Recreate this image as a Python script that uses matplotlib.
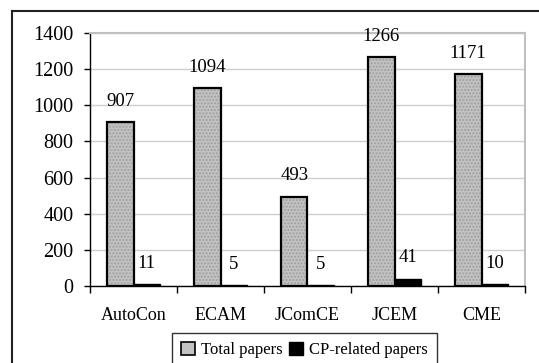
import matplotlib.pyplot as plt
import numpy as np
from matplotlib.lines import Line2D
from matplotlib.patches import Patch

plt.rcParams['font.family'] = ['Liberation Serif', 'DejaVu Serif']

journals = ['AutoCon', 'ECAM', 'JComCE', 'JCEM', 'CME']
total_papers = [907, 1094, 493, 1266, 1171]
cp_papers = [11, 5, 5, 41, 10]

fig = plt.figure(figsize=(5.39, 3.63), dpi=100)
ax = fig.add_axes([90 / 539, 1 - 286 / 363, 435 / 539, 253 / 363])

x = np.arange(len(journals))
w = 0.305

# gray bars, with a fine dot pattern
ax.bar(x - w / 2, total_papers, w, color='#c2c2c2', edgecolor='#a0a0a0',
       hatch='.....', linewidth=0, zorder=2)
ax.bar(x - w / 2, total_papers, w, fill=False, edgecolor='black',
       linewidth=1.6, zorder=3)
ax.bar(x + w / 2, cp_papers, w, color='black', edgecolor='black',
       linewidth=1.0, zorder=3)

for xi, v in zip(x, total_papers):
    ax.annotate(str(v), (xi - w / 2, v), xytext=(0, 9), textcoords='offset points',
                ha='center', va='bottom', fontsize=13.5)
for xi, v in zip(x, cp_papers):
    ax.annotate(str(v), (xi + w / 2, v), xytext=(0, 9), textcoords='offset points',
                ha='center', va='bottom', fontsize=13.5)

ax.set_xlim(-0.5, len(journals) - 0.5)
ax.set_ylim(0, 1400)
ax.set_yticks(np.arange(0, 1401, 200))
ax.tick_params(axis='y', labelsize=14.5, length=4, width=1, pad=8, direction='out')

ax.set_xticks(x)
ax.set_xticklabels(journals, fontsize=13)
ax.set_xticks(np.arange(-0.5, len(journals)), minor=True)
ax.tick_params(axis='x', which='major', length=0, pad=15)
ax.tick_params(axis='x', which='minor', length=5, width=1, direction='out')

ax.grid(axis='y', color='#cfcfcf', linewidth=1, zorder=0)
ax.set_axisbelow(True)
for s in ['left', 'bottom']:
    ax.spines[s].set_color('black')
    ax.spines[s].set_linewidth(1)
for s in ['top', 'right']:
    ax.spines[s].set_color('#c0c0c0')
    ax.spines[s].set_linewidth(1.5)

handles = [Patch(facecolor='#c2c2c2', edgecolor='black', linewidth=1.2),
           Patch(facecolor='black', edgecolor='black')]
leg = fig.legend(handles, ['Total papers', 'CP-related papers'], ncol=2,
                 loc='upper left', bbox_to_anchor=(172 / 539, 1 - 333 / 363),
                 fontsize=12, frameon=True, fancybox=False,
                 handlelength=0.8, handleheight=0.8, handletextpad=0.4,
                 columnspacing=0.4, borderpad=0.55, borderaxespad=0)
leg.get_frame().set_edgecolor('black')
leg.get_frame().set_linewidth(1)

# outer chart border (top and left visible)
fig.add_artist(Line2D([12 / 539, 1], [1 - 11 / 363] * 2, color='#222222',
                      linewidth=1.5, transform=fig.transFigure))
fig.add_artist(Line2D([12 / 539] * 2, [0, 1 - 11 / 363], color='#222222',
                      linewidth=1.5, transform=fig.transFigure))

fig.savefig('out.png', dpi=100)
